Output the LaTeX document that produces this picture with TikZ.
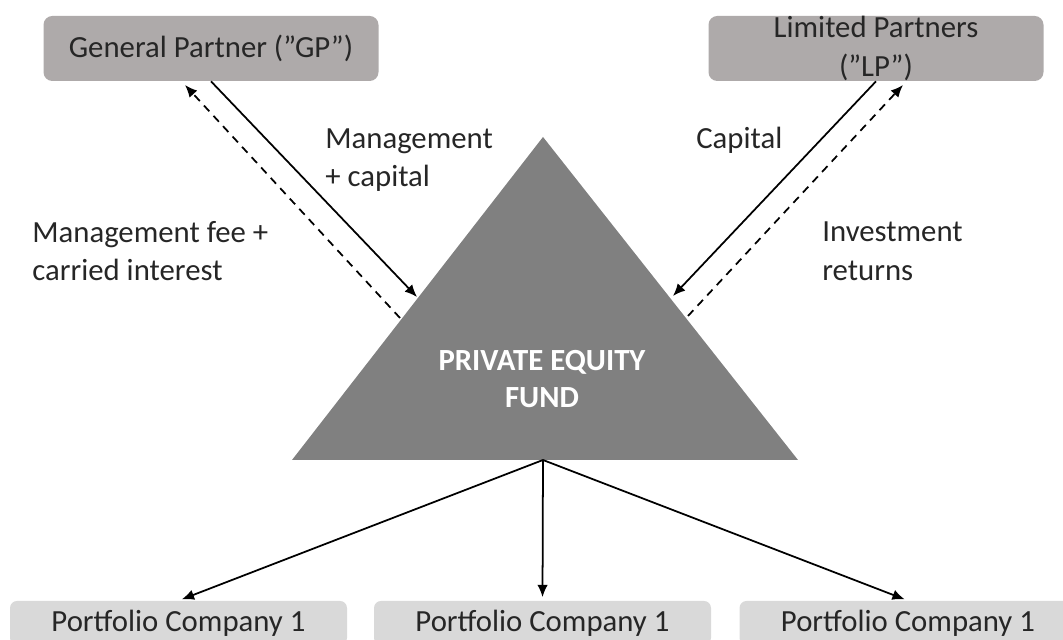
\documentclass[tikz,border=0pt]{standalone}
\usepackage{fontspec}
\setmainfont{Carlito}
\usetikzlibrary{arrows.meta}
\definecolor{partnergray}{RGB}{174,170,170}
\definecolor{fundgray}{RGB}{128,128,128}
\definecolor{companygray}{RGB}{217,217,217}
\definecolor{textgray}{RGB}{38,38,38}
\tikzset{
	partner/.style={fill=partnergray,rounded corners=5pt,minimum width=6.7cm,minimum height=1.3cm,inner sep=0pt},
	company/.style={fill=companygray,rounded corners=4pt,minimum width=6.74cm,minimum height=0.88cm,inner sep=0pt},
	flow/.style={->,line width=1pt},
	payback/.style={->,line width=1pt,dash pattern=on 4.5pt off 3.5pt},
	note/.style={anchor=west,align=left,inner sep=0pt}
}
\begin{document}
\begin{tikzpicture}[>={Latex[length=7pt,width=6pt]},font=\fontsize{17.5}{22}\selectfont,text=textgray]
		\useasboundingbox (0,0) rectangle (21.26,12.8);
		\clip (0,0) rectangle (21.26,12.8);
		\fill[fundgray] (5.84,3.6)--(10.86,10.06)--(15.96,3.6)--cycle;
		\node[text=white,font=\fontsize{17.5}{21.5}\selectfont\bfseries,align=center] (fund) at (10.84,5.22) {PRIVATE EQUITY\\FUND};
		\coordinate (gpin) at (8.34,6.86);
		\coordinate (gpout) at (8.0,6.44);
		\coordinate (gpret) at (3.7,11.1);
		\coordinate (lpin) at (13.46,6.88);
		\coordinate (lpout) at (13.76,6.48);
		\coordinate (lpret) at (18.06,11.1);
		\coordinate (fundbase) at (10.86,3.6);
		\node[partner] (gp) at (4.22,11.83) {General Partner (”GP”)};
		\node[partner] (lp) at (17.52,11.83) {};
		\node[align=center] (lptext) at (lp) {Limited Partners\\(”LP”)};
		\node[company] (pc1) at (3.57,0.34) {Portfolio Company 1};
		\node[company] (pc2) at (10.85,0.34) {Portfolio Company 1};
		\node[company] (pc3) at (18.16,0.34) {Portfolio Company 1};
		\draw[flow] (gp.south)--(gpin);
		\draw[payback] (gpout)--(gpret);
		\draw[flow] (lp.south)--(lpin);
		\draw[payback] (lpout)--(lpret);
		\draw[flow,shorten >=2pt] (fundbase)--(pc1.north);
		\draw[flow,shorten >=2pt] (fundbase)--(pc2.north);
		\draw[flow,shorten >=2pt] (fundbase)--(pc3.north);
		\node[note] (mgmt) at (6.5,9.6) {Management\\+ capital};
		\node[note] (fee) at (0.64,7.78) {Management fee +\\carried interest};
		\node[note] (cap) at (13.92,10.0) {Capital};
		\node[note] (ret) at (16.44,7.78) {Investment\\returns};
	\end{tikzpicture}
\end{document}
